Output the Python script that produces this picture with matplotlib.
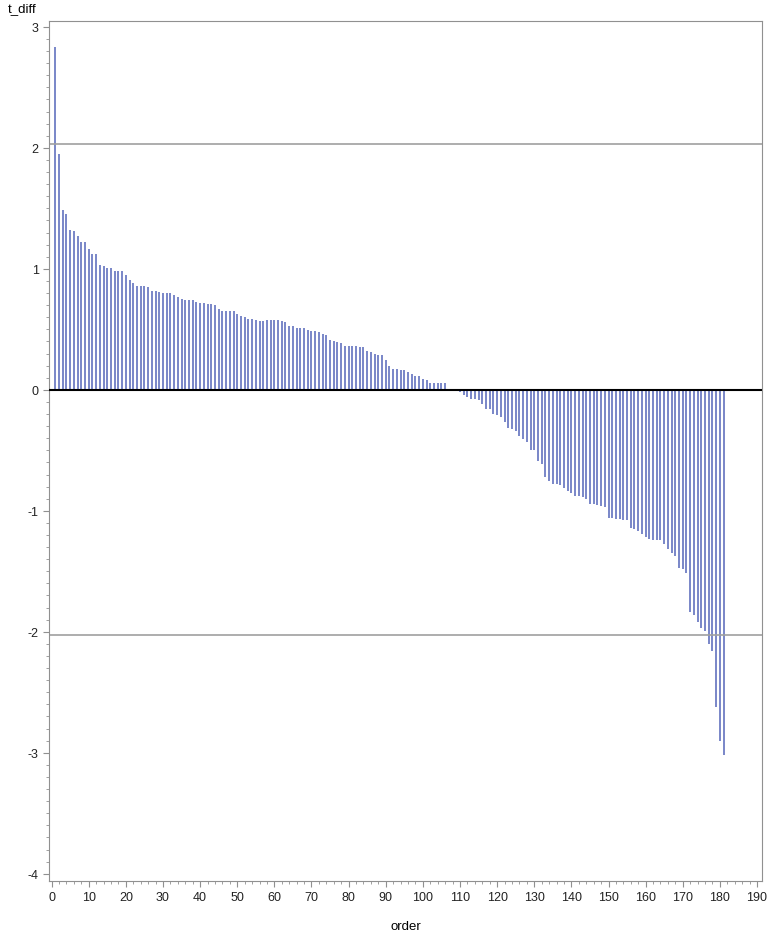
import numpy as np
import matplotlib.pyplot as plt
from matplotlib.ticker import MultipleLocator

# ==========================================
# Données : t_diff triés par ordre décroissant
# ==========================================
t_pos = [2.83, 1.95, 1.49, 1.455, 1.32, 1.31, 1.27, 1.22, 1.22, 1.165,
         1.125, 1.125, 1.035, 1.025, 1.005, 1.005, 0.985, 0.985, 0.985, 0.945,
         0.905, 0.885, 0.855, 0.855, 0.855, 0.85, 0.82, 0.82, 0.81, 0.80,
         0.80, 0.80, 0.78, 0.77, 0.75, 0.745, 0.74, 0.74, 0.73, 0.72,
         0.72, 0.71, 0.71, 0.70, 0.67, 0.65, 0.65, 0.65, 0.65, 0.63,
         0.61, 0.60, 0.585, 0.585, 0.575, 0.57, 0.57, 0.575, 0.575, 0.575,
         0.575, 0.57, 0.56, 0.525, 0.525, 0.515, 0.51, 0.51, 0.495, 0.49,
         0.49, 0.475, 0.46, 0.45, 0.415, 0.40, 0.395, 0.385, 0.365, 0.365,
         0.365, 0.365, 0.355, 0.35, 0.325, 0.31, 0.30, 0.29, 0.285, 0.25,
         0.20, 0.17, 0.17, 0.16, 0.16, 0.145, 0.13, 0.115, 0.115, 0.09,
         0.08, 0.06, 0.06, 0.06, 0.055, 0.055]
t_neg = [-0.01, -0.01, -0.01, -0.015, -0.04, -0.06, -0.075, -0.08, -0.085, -0.12,
         -0.16, -0.16, -0.20, -0.205, -0.225, -0.27, -0.315, -0.32, -0.34, -0.38,
         -0.405, -0.43, -0.50, -0.50, -0.585, -0.61, -0.72, -0.755, -0.78, -0.78,
         -0.785, -0.81, -0.84, -0.85, -0.875, -0.88, -0.89, -0.905, -0.94, -0.945,
         -0.95, -0.96, -0.97, -1.06, -1.06, -1.065, -1.07, -1.08, -1.08, -1.145,
         -1.15, -1.17, -1.19, -1.215, -1.235, -1.24, -1.24, -1.24, -1.275, -1.315,
         -1.345, -1.37, -1.47, -1.48, -1.515, -1.84, -1.86, -1.92, -1.965, -1.99,
         -2.10, -2.16, -2.62, -2.90, -3.02]
t_diff = np.array(t_pos + t_neg)
order = np.arange(1, len(t_diff) + 1)

t_crit = 2.03   # lignes de référence

# ==========================================
# Tracé
# ==========================================
plt.rcParams['font.family'] = ['Liberation Sans', 'DejaVu Sans']
plt.rcParams['axes.unicode_minus'] = False

fig = plt.figure(figsize=(7.69, 9.37), dpi=100)
ax = fig.add_axes([0.0637, 0.0587, 0.927, 0.918])

ax.vlines(order, 0, t_diff, color='#5b6cbc', lw=1.15)
ax.axhline(0, color='black', lw=1.5, zorder=3)
ax.axhline(t_crit, color='#a0a0a0', lw=1.2)
ax.axhline(-t_crit, color='#a0a0a0', lw=1.2)

ax.set_xlim(-0.7, 191.3)
ax.set_ylim(-4.06, 3.05)
ax.xaxis.set_major_locator(MultipleLocator(10))
ax.xaxis.set_minor_locator(MultipleLocator(2))
ax.yaxis.set_major_locator(MultipleLocator(1))
ax.yaxis.set_minor_locator(MultipleLocator(0.1))

for s in ax.spines.values():
    s.set_color('#909090')
ax.tick_params(which='major', length=4, color='#909090', labelsize=9, labelcolor='#222222')
ax.tick_params(which='minor', length=2, color='#909090')

ax.set_xlabel('order', fontsize=9.5, labelpad=12)
fig.text(0.01, 0.984, 't_diff', fontsize=9.5, ha='left', va='bottom')

fig.savefig('out.png', dpi=100)
